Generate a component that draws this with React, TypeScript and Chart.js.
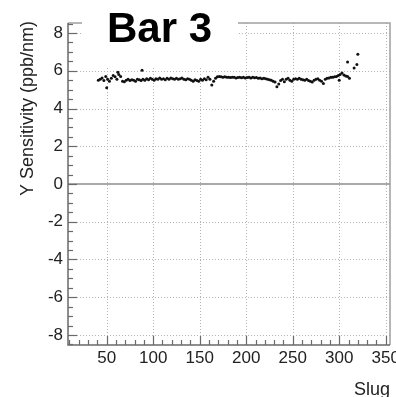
import React, { useEffect, useRef } from 'react';
import { Chart, registerables } from 'chart.js';

Chart.register(...registerables);

// ---- data ----
const slugs = [
  41, 43, 45, 47, 49, 51, 53, 55, 57, 59,
  61, 63, 65, 67, 69, 71, 73, 75, 77, 79,
  81, 83, 85, 87, 89, 91, 93, 95, 97, 99,
  101, 103, 105, 107, 109, 111, 113, 115, 117, 119,
  121, 123, 125, 127, 129, 131, 133, 135, 137, 139,
  141, 143, 145, 147, 149, 151, 153, 155, 157, 159,
  161, 163, 165, 167, 169, 171, 173, 175, 177, 179,
  181, 183, 185, 187, 189, 191, 193, 195, 197, 199,
  201, 203, 205, 207, 209, 211, 213, 215, 217, 219,
  221, 223, 225, 227, 229, 231, 233, 235, 237, 239,
  241, 243, 245, 247, 249, 251, 253, 255, 257, 259,
  261, 263, 265, 267, 269, 271, 273, 275, 277, 279,
  281, 283, 285, 287, 289, 291, 293, 295, 297, 299,
  301, 303, 305, 307, 309, 311,
];
const sensitivity = [
  5.50, 5.55, 5.62, 5.48, 5.70, 5.55, 5.45, 5.60, 5.75, 5.68,
  5.55, 5.80, 5.70, 5.45, 5.42, 5.50, 5.55, 5.48, 5.52, 5.50,
  5.45, 5.55, 5.52, 5.48, 5.55, 5.50, 5.58, 5.52, 5.60, 5.55,
  5.50, 5.58, 5.55, 5.62, 5.55, 5.58, 5.52, 5.60, 5.55, 5.62,
  5.58, 5.55, 5.60, 5.55, 5.58, 5.62, 5.55, 5.52, 5.58, 5.55,
  5.50, 5.45, 5.52, 5.48, 5.45, 5.55, 5.50, 5.58, 5.52, 5.65,
  5.55, 5.25, 5.45, 5.60, 5.68, 5.70, 5.68, 5.66, 5.68, 5.65,
  5.66, 5.64, 5.66, 5.65, 5.62, 5.64, 5.66, 5.63, 5.65, 5.62,
  5.64, 5.66, 5.62, 5.65, 5.63, 5.64, 5.60, 5.62, 5.58, 5.60,
  5.58, 5.55, 5.52, 5.50, 5.45, 5.40, 5.15, 5.30, 5.48, 5.55,
  5.42, 5.55, 5.60, 5.50, 5.45, 5.55, 5.58, 5.55, 5.60, 5.55,
  5.52, 5.50, 5.55, 5.48, 5.45, 5.40, 5.50, 5.55, 5.58, 5.50,
  5.45, 5.32, 5.55, 5.60, 5.62, 5.65, 5.66, 5.68, 5.70, 5.75,
  5.80, 5.88, 5.78, 5.72, 5.70, 5.60,
];
const extraSlugs = [50, 62, 88, 300, 309, 316, 319, 320];
const extraSensitivity = [5.10, 5.92, 6.03, 5.50, 6.46, 6.15, 6.33, 6.88];

const xTickValues = [50, 100, 150, 200, 250, 300, 350];
const yTickValues = [-8, -6, -4, -2, 0, 2, 4, 6, 8];
const titleText = 'Bar 3';
const xTitle = 'Slug';
const yTitle = 'Y Sensitivity (ppb/nm)';

const FONT = '"Liberation Sans", Arial, Helvetica, sans-serif';

const rootFramePlugin = {
  id: 'rootFrame',
  beforeDatasetsDraw(chart: any) {
    const { ctx, chartArea: a, scales } = chart;
    const x = scales.x;
    const y = scales.y;
    ctx.save();
    // dotted grid
    ctx.strokeStyle = '#b4b4b4';
    ctx.lineWidth = 1;
    ctx.setLineDash([1, 2]);
    xTickValues.forEach((v) => {
      const px = Math.round(x.getPixelForValue(v)) + 0.5;
      ctx.beginPath();
      ctx.moveTo(px, a.top);
      ctx.lineTo(px, a.bottom);
      ctx.stroke();
    });
    yTickValues.forEach((v) => {
      if (v === 0) return;
      const py = Math.round(y.getPixelForValue(v)) + 0.5;
      ctx.beginPath();
      ctx.moveTo(a.left, py);
      ctx.lineTo(a.right, py);
      ctx.stroke();
    });
    ctx.setLineDash([]);
    // zero line
    ctx.strokeStyle = '#8c8c8c';
    ctx.lineWidth = 1.6;
    const py0 = y.getPixelForValue(0);
    ctx.beginPath();
    ctx.moveTo(a.left, py0);
    ctx.lineTo(a.right, py0);
    ctx.stroke();

    // frame (top/right lighter)
    ctx.strokeStyle = '#a0a0a0';
    ctx.lineWidth = 1.5;
    ctx.beginPath();
    ctx.moveTo(a.left, a.top);
    ctx.lineTo(a.right, a.top);
    ctx.lineTo(a.right, a.bottom);
    ctx.stroke();

    // axis lines
    ctx.strokeStyle = '#6a6a6a';
    ctx.lineWidth = 1.5;
    ctx.beginPath();
    ctx.moveTo(a.left, a.top);
    ctx.lineTo(a.left, a.bottom);
    ctx.lineTo(a.right, a.bottom);
    ctx.stroke();

    // inward ticks
    ctx.lineWidth = 1.2;
    for (let v = 10; v <= 350; v += 10) {
      const px = Math.round(x.getPixelForValue(v)) + 0.5;
      const len = v % 50 === 0 ? 9 : 5;
      ctx.beginPath();
      ctx.moveTo(px, a.bottom);
      ctx.lineTo(px, a.bottom - len);
      ctx.stroke();
    }
    for (let k = -17; k <= 17; k++) {
      const v = k * 0.5;
      const py = Math.round(y.getPixelForValue(v)) + 0.5;
      const len = k % 4 === 0 ? 9 : 5;
      ctx.beginPath();
      ctx.moveTo(a.left, py);
      ctx.lineTo(a.left + len, py);
      ctx.stroke();
    }
    ctx.restore();
  },
  afterDraw(chart: any) {
    const { ctx, chartArea: a } = chart;
    ctx.save();
    // white box behind title
    ctx.fillStyle = '#ffffff';
    ctx.fillRect(82, 0, 156, 66);
    ctx.fillStyle = '#000000';
    ctx.font = `bold 42px ${FONT}`;
    ctx.textAlign = 'left';
    ctx.textBaseline = 'alphabetic';
    ctx.fillText(titleText, 107, 42);

    // axis titles
    ctx.fillStyle = '#222222';
    ctx.font = `18px ${FONT}`;
    ctx.textAlign = 'right';
    ctx.fillText(xTitle, a.right, 395);

    ctx.translate(33, 21);
    ctx.rotate(-Math.PI / 2);
    ctx.textAlign = 'right';
    ctx.fillText(yTitle, 0, 0);
    ctx.restore();
  },
};

export default function App() {
  const canvasRef = useRef<HTMLCanvasElement | null>(null);

  useEffect(() => {
    const canvas = canvasRef.current;
    if (!canvas) return;
    const mainPoints = slugs.map((s, i) => ({ x: s, y: sensitivity[i] }));
    const extraPoints = extraSlugs.map((s, i) => ({ x: s, y: extraSensitivity[i] }));
    const chart = new Chart(canvas, {
      type: 'scatter',
      data: {
        datasets: [
          {
            data: [...mainPoints, ...extraPoints],
            backgroundColor: '#111111',
            borderWidth: 0,
            pointRadius: 1.5,
            showLine: false,
          },
        ],
      },
      options: {
        responsive: false,
        animation: false,
        layout: { padding: { top: 23, right: 6, bottom: 0, left: 0 } },
        plugins: {
          legend: { display: false },
          tooltip: { enabled: false },
          title: { display: false },
        },
        scales: {
          x: {
            type: 'linear',
            min: 8.4,
            max: 354.6,
            grid: { display: false, drawTicks: false },
            border: { display: false },
            afterBuildTicks: (s: any) => {
              s.ticks = xTickValues.map((v) => ({ value: v }));
            },
            ticks: {
              font: { family: FONT, size: 17 },
              color: '#222222',
              padding: 3,
              maxRotation: 0,
              autoSkip: false,
              callback: (v: any) => String(v),
            },
            afterFit: (s: any) => {
              s.height = 52;
              s.paddingLeft = 0;
              s.paddingRight = 0;
            },
          },
          y: {
            type: 'linear',
            min: -8.53,
            max: 8.53,
            grid: { display: false, drawTicks: false },
            border: { display: false },
            afterBuildTicks: (s: any) => {
              s.ticks = yTickValues.map((v) => ({ value: v }));
            },
            ticks: {
              font: { family: FONT, size: 17 },
              color: '#222222',
              padding: 5,
              autoSkip: false,
              callback: (v: any) => String(v),
            },
            afterFit: (s: any) => {
              s.width = 68;
              s.paddingTop = 0;
              s.paddingBottom = 0;
            },
          },
        },
      },
      plugins: [rootFramePlugin],
    });
    return () => chart.destroy();
  }, []);

  return (
    <div style={{ position: 'absolute', left: 0, top: 0, width: 396, height: 397, background: '#fff' }}>
      <canvas ref={canvasRef} width={396} height={397} style={{ display: 'block' }} />
    </div>
  );
}
